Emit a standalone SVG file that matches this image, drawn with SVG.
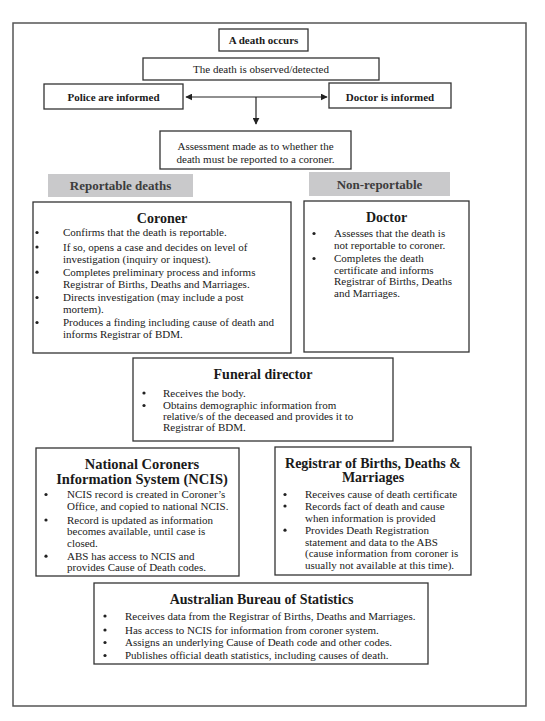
<svg xmlns="http://www.w3.org/2000/svg" width="545" height="721" viewBox="0 0 545 721">
<defs>
<marker id="ah" viewBox="0 0 10 10" refX="9" refY="5" markerWidth="7" markerHeight="7" orient="auto-start-reverse" markerUnits="userSpaceOnUse">
<path d="M0,0 L10,5 L0,10 z" fill="#222"/>
</marker>
<style>
.box{fill:#fff;stroke:#333;stroke-width:1.3}
.bar{fill:#c9c9cb;stroke:none}
text{font-family:"Liberation Serif","Times New Roman",serif;fill:#1a1a1a}
.t{font-size:11px}
.b{font-size:11px;font-weight:bold}
.h{font-size:14px;font-weight:bold;text-anchor:middle}
.c{text-anchor:middle}
.g{font-size:13px;font-weight:bold;fill:#3c3c3c;text-anchor:middle}
.dot{fill:#222}
.con{stroke:#222;stroke-width:1.2;fill:none}
</style>
</defs>
<rect x="13" y="23" width="513" height="683" fill="#fff" stroke="#555" stroke-width="1.5"/>

<g id="death-occurs">
<rect class="box" x="219" y="29" width="89" height="22"/>
<text class="b c" x="263.5" y="44">A death occurs</text>
</g>
<g id="observed">
<rect class="box" x="143" y="58" width="236" height="22"/>
<text class="t c" x="261" y="73">The death is observed/detected</text>
</g>
<g id="police">
<rect class="box" x="44" y="84" width="139" height="25"/>
<text class="b c" x="113.5" y="101">Police are informed</text>
</g>
<g id="doctor-informed">
<rect class="box" x="329" y="83" width="122" height="25"/>
<text class="b c" x="390" y="100.5">Doctor is informed</text>
</g>
<g id="assessment">
<rect class="box" x="160" y="131" width="191" height="38"/>
<text class="t c" x="255.5" y="149.5">Assessment made as to whether the</text>
<text class="t c" x="255.5" y="162.5">death must be reported to a coroner.</text>
</g>

<g id="connectors">
<line class="con" x1="186" y1="97" x2="327" y2="97" marker-start="url(#ah)" marker-end="url(#ah)"/>
<line class="con" x1="256" y1="97" x2="256" y2="124" marker-end="url(#ah)"/>
</g>

<g id="reportable-label">
<rect class="bar" x="48" y="174" width="145" height="23"/>
<text class="g" x="120.5" y="190">Reportable deaths</text>
</g>
<g id="nonreportable-label">
<rect class="bar" x="309" y="172" width="141" height="24"/>
<text class="g" x="379.5" y="189">Non-reportable</text>
</g>

<g id="coroner">
<rect class="box" x="33" y="202" width="258" height="151"/>
<text class="h" x="162" y="223">Coroner</text>
<circle class="dot" cx="37" cy="232.5" r="1.6"/>
<circle class="dot" cx="37" cy="247" r="1.6"/>
<circle class="dot" cx="37" cy="272.2" r="1.6"/>
<circle class="dot" cx="37" cy="297.5" r="1.6"/>
<circle class="dot" cx="37" cy="322.5" r="1.6"/>
<text class="t" x="63" y="236">Confirms that the death is reportable.</text>
<text class="t" x="63" y="250.5">If so, opens a case and decides on level of</text>
<text class="t" x="63" y="263">investigation (inquiry or inquest).</text>
<text class="t" x="63" y="275.7">Completes preliminary process and informs</text>
<text class="t" x="63" y="288.3">Registrar of Births, Deaths and Marriages.</text>
<text class="t" x="63" y="301">Directs investigation (may include a post</text>
<text class="t" x="63" y="313.4">mortem).</text>
<text class="t" x="63" y="326">Produces a finding including cause of death and</text>
<text class="t" x="63" y="338">informs Registrar of BDM.</text>
</g>

<g id="doctor">
<rect class="box" x="304" y="201" width="165" height="151"/>
<text class="h" x="386.5" y="221.5">Doctor</text>
<circle class="dot" cx="314" cy="233.5" r="1.6"/>
<circle class="dot" cx="314" cy="258.5" r="1.6"/>
<text class="t" x="334" y="237">Assesses that the death is</text>
<text class="t" x="334" y="248.7">not reportable to coroner.</text>
<text class="t" x="334" y="262">Completes the death</text>
<text class="t" x="334" y="273.7">certificate and informs</text>
<text class="t" x="334" y="285.4">Registrar of Births, Deaths</text>
<text class="t" x="334" y="297">and Marriages.</text>
</g>

<g id="funeral-director">
<rect class="box" x="133" y="358" width="260" height="83"/>
<text class="h" x="263" y="379">Funeral director</text>
<circle class="dot" cx="144" cy="393" r="1.6"/>
<circle class="dot" cx="144" cy="405.5" r="1.6"/>
<text class="t" x="163" y="396.5">Receives the body.</text>
<text class="t" x="163" y="409">Obtains demographic information from</text>
<text class="t" x="163" y="420">relative/s of the deceased and provides it to</text>
<text class="t" x="163" y="431">Registrar of BDM.</text>
</g>

<g id="ncis">
<rect class="box" x="36" y="448" width="203" height="128"/>
<text class="h" x="142" y="469" style="font-size:14.5px">National Coroners</text>
<text class="h" x="142" y="483.5" style="font-size:14.5px">Information System (NCIS)</text>
<circle class="dot" cx="46" cy="494.5" r="1.6"/>
<circle class="dot" cx="46" cy="520" r="1.6"/>
<circle class="dot" cx="46" cy="556.2" r="1.6"/>
<text class="t" x="67" y="498">NCIS record is created in Coroner’s</text>
<text class="t" x="67" y="509.5">Office, and copied to national NCIS.</text>
<text class="t" x="67" y="523.7">Record is updated as information</text>
<text class="t" x="67" y="535">becomes available, until case is</text>
<text class="t" x="67" y="546.5">closed.</text>
<text class="t" x="67" y="559.7">ABS has access to NCIS and</text>
<text class="t" x="67" y="571">provides Cause of Death codes.</text>
</g>

<g id="registrar">
<rect class="box" x="275" y="447" width="196" height="128"/>
<text class="h" x="373" y="468">Registrar of Births, Deaths &amp;</text>
<text class="h" x="373" y="482">Marriages</text>
<circle class="dot" cx="285" cy="494.5" r="1.6"/>
<circle class="dot" cx="285" cy="506" r="1.6"/>
<circle class="dot" cx="285" cy="530.2" r="1.6"/>
<text class="t" x="305" y="498">Receives cause of death certificate</text>
<text class="t" x="305" y="509.5">Records fact of death and cause</text>
<text class="t" x="305" y="521.5">when information is provided</text>
<text class="t" x="305" y="533.7">Provides Death Registration</text>
<text class="t" x="305" y="545.5">statement and data to the ABS</text>
<text class="t" x="305" y="557">(cause information from coroner is</text>
<text class="t" x="305" y="569">usually not available at this time).</text>
</g>

<g id="abs">
<rect class="box" x="94" y="583" width="334" height="81"/>
<text class="h" x="261.5" y="603.5">Australian Bureau of Statistics</text>
<circle class="dot" cx="105" cy="616" r="1.6"/>
<circle class="dot" cx="105" cy="630" r="1.6"/>
<circle class="dot" cx="105" cy="642.5" r="1.6"/>
<circle class="dot" cx="105" cy="655.5" r="1.6"/>
<text class="t" x="125" y="619.5">Receives data from the Registrar of Births, Deaths and Marriages.</text>
<text class="t" x="125" y="633.5">Has access to NCIS for information from coroner system.</text>
<text class="t" x="125" y="646">Assigns an underlying Cause of Death code and other codes.</text>
<text class="t" x="125" y="659">Publishes official death statistics, including causes of death.</text>
</g>
</svg>
